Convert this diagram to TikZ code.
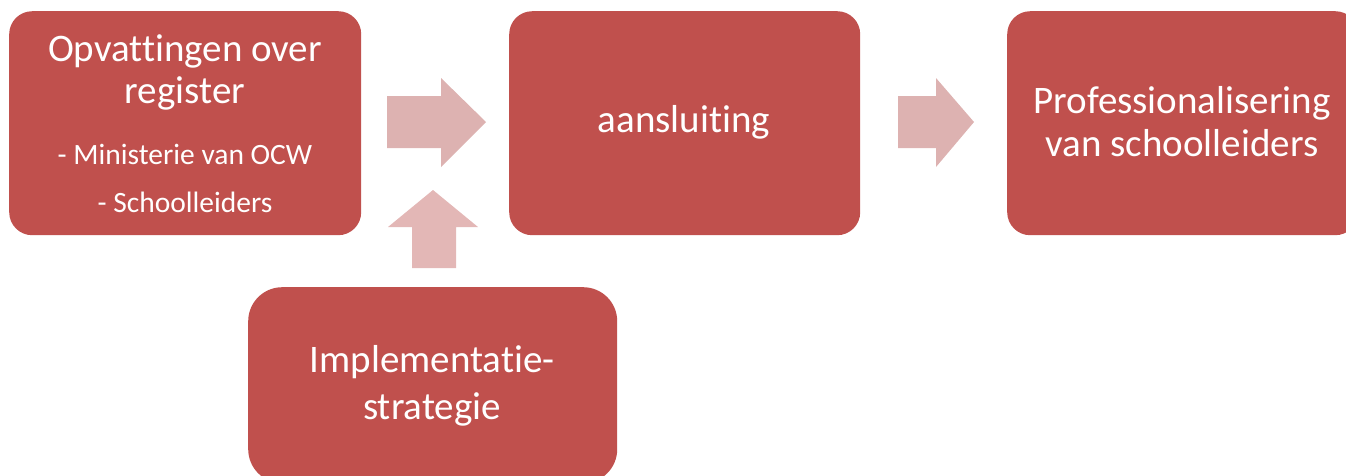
\documentclass[tikz,border=0pt]{standalone}
\usepackage{fontspec}
\setmainfont[Ligatures={NoCommon}]{Carlito}
\definecolor{boxred}{HTML}{C0504D}
\definecolor{arrowpink}{HTML}{DDB2B1}
\definecolor{arrowpinkup}{HTML}{E3B7B6}
\tikzset{
  rbox/.style={fill=boxred, draw=none, rounded corners=23pt, anchor=north west, inner sep=0pt},
  big/.style={text=white, anchor=base, inner sep=0pt, font=\fontsize{39}{44}\selectfont},
  small/.style={text=white, anchor=base, inner sep=0pt, font=\fontsize{29.5}{34}\selectfont},
  blockarrow/.style={fill=arrowpink, draw=none},
}
\begin{document}
\begin{tikzpicture}[x=1pt,y=-1pt]
\useasboundingbox (0,0) rectangle (1346,475);
\clip (0,0) rectangle (1346,475);
% boxes
\node[rbox, minimum width=352pt, minimum height=224pt] (b1) at (9,11) {};
\node[rbox, minimum width=351pt, minimum height=224pt] (b2) at (509,11) {};
\node[rbox, minimum width=351pt, minimum height=224pt] (b3) at (1007,11) {};
\node[rbox, rounded corners=34pt, minimum width=369pt, minimum height=196pt] (b4) at (248,287) {};
% texts
\node[big] (t1a) at (185,61) {Opvattingen over};
\node[big] (t1b) at (185,103) {register};
\node[small] (t1c) at (185,164) {- Ministerie van OCW};
\node[small] (t1d) at (185,212) {- Schoolleiders};
\node[big] (t2) at (684,132) {aansluiting};
\node[big] (t3a) at (1182,113) {Professionalisering};
\node[big] (t3b) at (1182,156) {van schoolleiders};
\node[big] (t4a) at (432,372) {Implementatie-};
\node[big] (t4b) at (432,419) {strategie};
% block arrows
\fill[arrowpink] (387,96) -- (441,96) -- (441,78) -- (486,122) -- (441,167) -- (441,148) -- (387,148) -- cycle;
\fill[arrowpink] (898,96) -- (936,96) -- (936,78) -- (974,122) -- (936,167) -- (936,148) -- (898,148) -- cycle;
\fill[arrowpinkup] (412,268) -- (412,227) -- (388,227) -- (433,190) -- (478,227) -- (456,227) -- (456,268) -- cycle;
\end{tikzpicture}
\end{document}
